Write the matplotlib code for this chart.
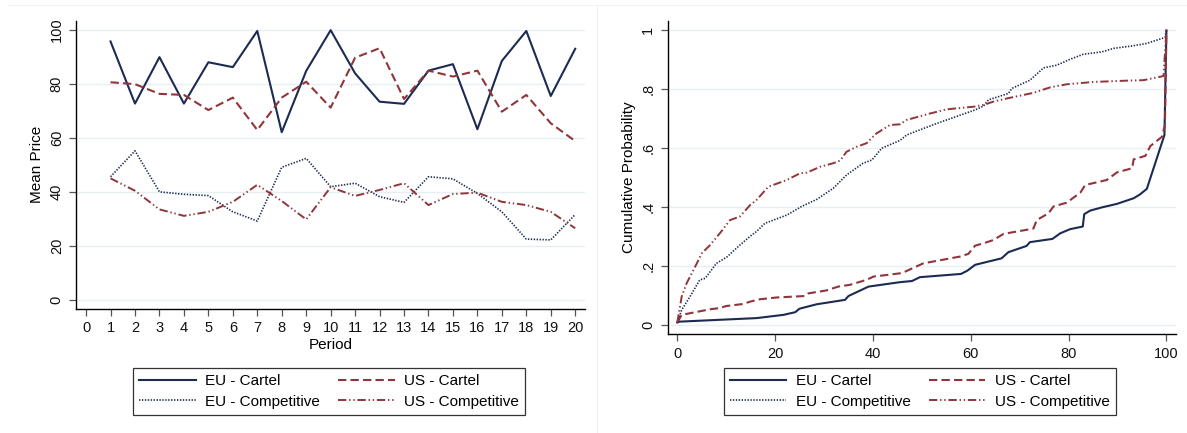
import matplotlib
matplotlib.use("Agg")
import matplotlib.pyplot as plt
from matplotlib.lines import Line2D

plt.rcParams['font.family'] = ['Liberation Sans', 'DejaVu Sans']
plt.rcParams['lines.scale_dashes'] = False

# ---------------- Left panel data: mean price by period ----------------
periods = list(range(1, 21))
eu_cartel = [95.7, 72.7, 89.9, 72.7, 88.0, 86.2, 99.6, 62.1, 84.8, 99.9,
             83.9, 73.4, 72.6, 84.9, 87.3, 63.2, 88.5, 99.6, 75.5, 93.0]
us_cartel = [80.6, 79.9, 76.3, 75.9, 70.3, 74.9, 62.9, 74.9, 80.8, 71.2,
             89.7, 93.2, 74.4, 84.9, 82.7, 84.9, 69.7, 75.9, 65.4, 58.8]
eu_comp = [45.6, 55.2, 40.0, 39.1, 38.6, 32.6, 29.2, 49.1, 52.4, 41.9,
           43.2, 38.2, 36.1, 45.6, 44.8, 39.4, 32.6, 22.5, 22.2, 31.6]
us_comp = [45.0, 40.4, 33.5, 31.1, 32.6, 36.3, 42.6, 36.6, 29.8, 41.7,
           38.5, 40.7, 43.2, 35.1, 39.2, 39.7, 36.3, 35.1, 32.6, 26.5]

# ---------------- Right panel data: cumulative distributions ----------------
eu_cartel_x = [0, 0.5, 16.2, 21.7, 24.1, 25.0, 28.5, 34.3, 35.0, 39.1, 45.5, 48.0,
               49.6, 58.0, 59.3, 60.9, 66.3, 67.7, 71.4, 72.1, 76.7, 78.3, 80.3,
               82.9, 83.2, 84.4, 86.8, 89.9, 93.3, 94.6, 96.0, 99.6, 100.0]
eu_cartel_y = [0.008, 0.011, 0.023, 0.034, 0.043, 0.055, 0.070, 0.085, 0.098, 0.130,
               0.145, 0.149, 0.162, 0.173, 0.184, 0.204, 0.226, 0.247, 0.268, 0.281,
               0.292, 0.311, 0.325, 0.334, 0.376, 0.388, 0.399, 0.411, 0.430, 0.443,
               0.462, 0.645, 1.0]

us_cartel_x = [0, 0.9, 6.7, 8.7, 10.0, 13.5, 14.9, 16.9, 20.3, 26.1, 26.8, 30.5,
               32.9, 35.3, 38.7, 40.1, 45.5, 46.6, 50.3, 57.8, 59.5, 60.9, 62.6,
               64.6, 66.7, 72.8, 73.5, 75.9, 76.9, 79.6, 82.4, 83.4, 87.8, 89.9,
               93.0, 93.3, 95.7, 96.7, 99.1, 99.7, 100.0]
us_cartel_y = [0.008, 0.034, 0.053, 0.057, 0.064, 0.071, 0.079, 0.087, 0.093, 0.098,
               0.107, 0.117, 0.130, 0.136, 0.153, 0.164, 0.175, 0.181, 0.209, 0.232,
               0.241, 0.269, 0.277, 0.288, 0.309, 0.327, 0.356, 0.379, 0.402, 0.415,
               0.449, 0.475, 0.492, 0.518, 0.532, 0.562, 0.574, 0.607, 0.639, 0.679,
               1.0]

eu_comp_x = [0, 0.9, 2.6, 4.6, 5.7, 8.0, 10.1, 12.8, 15.2, 16.2, 17.9, 22.4, 25.4,
             28.5, 31.9, 34.6, 38.0, 39.8, 41.8, 45.5, 46.9, 52.7, 55.4, 60.9,
             62.6, 63.6, 67.7, 68.4, 72.1, 74.9, 77.6, 80.3, 83.0, 86.8, 89.2,
             93.3, 96.0, 98.4, 99.7, 100.0]
eu_comp_y = [0.008, 0.051, 0.096, 0.153, 0.158, 0.209, 0.230, 0.271, 0.305, 0.317,
             0.345, 0.373, 0.402, 0.426, 0.464, 0.509, 0.549, 0.560, 0.600, 0.626,
             0.645, 0.682, 0.698, 0.730, 0.743, 0.764, 0.786, 0.803, 0.831, 0.873,
             0.882, 0.902, 0.919, 0.927, 0.939, 0.948, 0.956, 0.969, 0.976, 1.0]

us_comp_x = [0, 0.9, 1.9, 4.0, 5.0, 6.7, 8.7, 10.8, 12.8, 14.9, 16.2, 18.6, 22.4,
             25.1, 26.5, 29.2, 31.9, 33.3, 34.6, 36.7, 38.7, 40.7, 43.5, 45.5,
             46.9, 51.7, 55.1, 60.6, 62.6, 64.6, 67.4, 72.8, 76.3, 79.6, 85.1,
             91.2, 95.3, 99.4, 100.0]
us_comp_y = [0.008, 0.096, 0.141, 0.209, 0.243, 0.271, 0.311, 0.356, 0.368, 0.407,
             0.424, 0.469, 0.492, 0.515, 0.517, 0.537, 0.549, 0.558, 0.588, 0.605,
             0.617, 0.650, 0.679, 0.681, 0.696, 0.718, 0.732, 0.741, 0.747, 0.758,
             0.769, 0.788, 0.807, 0.817, 0.825, 0.829, 0.831, 0.845, 1.0]

labels = ["EU - Cartel", "US - Cartel", "EU - Competitive", "US - Competitive"]
# legend is filled column by column: EU entries in column 1, US in column 2
legend_order = ["EU - Cartel", "EU - Competitive", "US - Cartel", "US - Competitive"]

NAVY = "#1c2b52"
MAROON = "#90353b"
GRID = "#e6eff2"

styles = {
    "EU - Cartel": dict(color=NAVY, lw=1.5, linestyle="-"),
    "US - Cartel": dict(color=MAROON, lw=1.5, linestyle=(0, (6, 3))),
    "EU - Competitive": dict(color=NAVY, lw=1.2, linestyle=(0, (1, 1.1))),
    "US - Competitive": dict(color=MAROON, lw=1.4, linestyle=(0, (6, 2, 1, 2, 1, 2))),
}

W, H = 1187, 433
fig = plt.figure(figsize=(W / 100, H / 100), dpi=100)
fig.patch.set_facecolor("white")


def fx(px):
    return px / W


def fy(py):
    return 1 - py / H


axL = fig.add_axes([fx(76.3), fy(309), fx(585 - 76.3), (309 - 20.7) / H])
axR = fig.add_axes([fx(667.7), fy(334.3), fx(1175.7 - 667.7), (334.3 - 20.7) / H])

# faint panel separators
fig.add_artist(Line2D([fx(597), fx(597)], [0, fy(5)], color="#eeeeee", lw=0.8))
fig.add_artist(Line2D([fx(8), fx(1187)], [fy(5), fy(5)], color="#f2f2f2", lw=0.8))


def style_axes(ax):
    for s in ["top", "right"]:
        ax.spines[s].set_visible(False)
    for s in ["left", "bottom"]:
        ax.spines[s].set_color("black")
        ax.spines[s].set_linewidth(1.0)
    ax.tick_params(direction="out", length=5, width=0.9, color="#555555",
                   labelsize=10.5, labelcolor="#111111", pad=4)
    ax.grid(axis="y", color=GRID, lw=1.0)
    ax.set_axisbelow(True)
    for lab in ax.get_yticklabels():
        lab.set_rotation(90)
        lab.set_va("center")


# Left panel
series_left = {"EU - Cartel": eu_cartel, "US - Cartel": us_cartel,
               "EU - Competitive": eu_comp, "US - Competitive": us_comp}
for name in labels:
    axL.plot(periods, series_left[name], **styles[name])
axL.set_xlim(-0.4, 20.4)
axL.set_ylim(-3.4, 103.4)
axL.set_xticks(range(0, 21))
axL.set_yticks([0, 20, 40, 60, 80, 100])
axL.set_xlabel("Period", fontsize=11, labelpad=2)
axL.set_ylabel("Mean Price", fontsize=11, labelpad=4)
style_axes(axL)

# Right panel
series_right = {"EU - Cartel": (eu_cartel_x, eu_cartel_y),
                "US - Cartel": (us_cartel_x, us_cartel_y),
                "EU - Competitive": (eu_comp_x, eu_comp_y),
                "US - Competitive": (us_comp_x, us_comp_y)}
for name in labels:
    xs, ys = series_right[name]
    axR.plot(xs, ys, **styles[name])
axR.set_xlim(-1.96, 101.9)
axR.set_ylim(-0.032, 1.033)
axR.set_xticks([0, 20, 40, 60, 80, 100])
axR.set_yticks([0, 0.2, 0.4, 0.6, 0.8, 1.0])
axR.set_yticklabels(["0", ".2", ".4", ".6", ".8", "1"])
axR.set_ylabel("Cumulative Probability", fontsize=11, labelpad=4)
style_axes(axR)

# Legends
handles = [Line2D([], [], **styles[n]) for n in legend_order]
for cx in (329, 919.7):
    leg = fig.legend(handles, legend_order, loc="center", ncol=2,
                     bbox_to_anchor=(fx(cx), fy(391.5)), fontsize=11,
                     frameon=True, fancybox=False, handlelength=3.7,
                     handletextpad=0.6, columnspacing=1.2, labelspacing=0.4,
                     borderpad=0.4, borderaxespad=0)
    leg.get_frame().set_edgecolor("black")
    leg.get_frame().set_linewidth(0.9)

fig.savefig("out.png", dpi=100, facecolor="white")
